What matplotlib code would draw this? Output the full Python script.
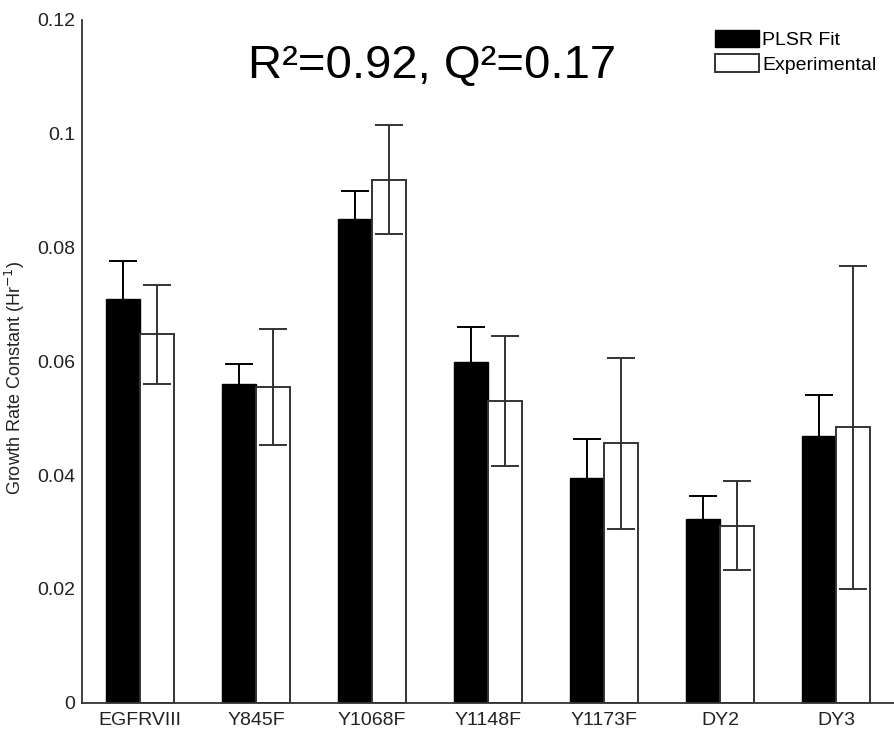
import numpy as np
import matplotlib.pyplot as plt

plt.rcParams['font.family'] = ['Liberation Sans', 'DejaVu Sans']

# Daten
categories = ["EGFRVIII", "Y845F", "Y1068F", "Y1148F", "Y1173F", "DY2", "DY3"]
plsr_fit = [0.0710, 0.0561, 0.0850, 0.0599, 0.0395, 0.0323, 0.0469]
plsr_err = [0.0066, 0.0035, 0.0050, 0.0061, 0.0069, 0.0040, 0.0071]
experimental = [0.0648, 0.0555, 0.0919, 0.0530, 0.0456, 0.0311, 0.0484]
exp_err = [0.0087, 0.0102, 0.0096, 0.0114, 0.0150, 0.0078, 0.0284]

yticks = [0, 0.02, 0.04, 0.06, 0.08, 0.1, 0.12]
ytick_labels = ["0", "0.02", "0.04", "0.06", "0.08", "0.1", "0.12"]

x = np.arange(1, len(categories) + 1)
w = 0.29

fig = plt.figure(figsize=(8.94, 7.35), dpi=100)
ax = fig.add_axes([82 / 894, 32.3 / 735, 812 / 894, 682.7 / 735])

# Fehlerbalken: beim schwarzen Balken verschwindet der untere Teil im Balken
ax.bar(x - w / 2, plsr_fit, w, yerr=plsr_err, color='black', edgecolor='black',
       linewidth=1, label='PLSR Fit',
       error_kw=dict(ecolor='black', elinewidth=1.4, capsize=10, capthick=1.4))
ax.bar(x + w / 2, experimental, w, yerr=exp_err, color='white', edgecolor='#333333',
       linewidth=1.4, label='Experimental',
       error_kw=dict(ecolor='#333333', elinewidth=1.4, capsize=10, capthick=1.4))

ax.set_xlim(0.5, 7.5)
ax.set_ylim(0, 0.12)
ax.set_xticks(x)
ax.set_xticklabels(categories, fontsize=14)
ax.set_yticks(yticks)
ax.set_yticklabels(ytick_labels, fontsize=14)
ax.tick_params(axis='both', length=0, colors='#222222')
ax.tick_params(axis='y', pad=5)
ax.tick_params(axis='x', pad=7)

for s in ['top', 'right']:
    ax.spines[s].set_visible(False)
for s in ['left', 'bottom']:
    ax.spines[s].set_color('#333333')
    ax.spines[s].set_linewidth(1.3)

ax.set_ylabel('Growth Rate Constant (Hr$^{-1}$)', fontsize=13, color='#222222')
ax.yaxis.set_label_coords(-0.068, 0.476)

ax.text(3.52, 0.1098, 'R\u00b2=0.92, Q\u00b2=0.17', fontsize=34, ha='center',
        va='baseline', color='black')

ax.legend(loc='upper left', bbox_to_anchor=(715 / 894, 1 - 30 / 735),
          bbox_transform=fig.transFigure, frameon=False, fontsize=14,
          handlelength=2.27, handleheight=1.0, handletextpad=0.15,
          labelspacing=0.25, borderpad=0, borderaxespad=0)

fig.savefig('out.png', dpi=100)
